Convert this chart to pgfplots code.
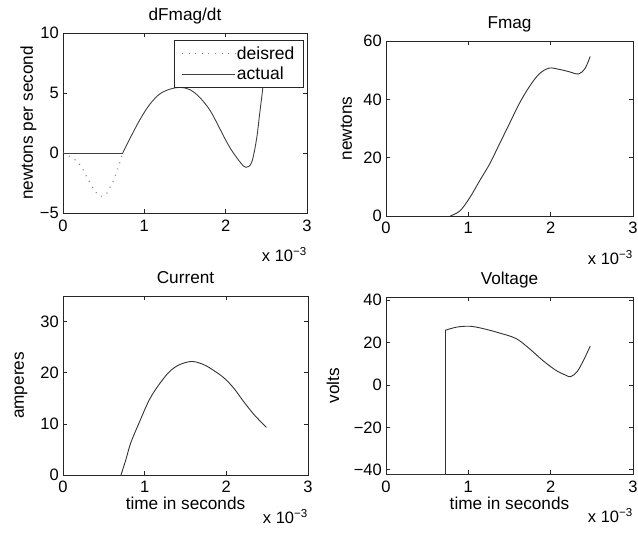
\documentclass[border=0pt]{standalone}
\usepackage{fontspec}
\setmainfont{Liberation Sans}
\usepackage{pgfplots}
\pgfplotsset{compat=1.18}
\newcommand{\ff}{\fontsize{16.5}{19}\selectfont}
\newcommand{\fl}{\fontsize{17.2}{20}\selectfont}
\pgfplotsset{
  mstyle/.style={
    scale only axis,
    xmin=0, xmax=3,
    xtick={0,1,2,3},
    tick align=inside,
    major tick length=4pt,
    axis line style={black!85, line width=0.8pt},
    tick style={black!85, line width=0.6pt},
    /pgf/number format/assume math mode=true,
    tick label style={font=\ff, inner sep=0pt},
    label style={font=\fl, inner sep=0pt},
    every axis title/.style={font=\fl, inner sep=0pt, at={(0.5,1)}, anchor=base, yshift=13pt},
    xticklabel style={anchor=base, yshift=-18pt},
    xlabel style={at={(axis description cs:0.5,0)}, anchor=base, yshift=-35pt},
    yticklabel style={anchor=east, xshift=-4pt},
    every axis plot/.append style={line width=0.9pt},
  },
  xsc/.style={
    after end axis/.code={
      \node[anchor=north east, inner sep=0pt, font=\ff] at ([yshift=-34pt]rel axis cs:1,0) {x 10\textsuperscript{−3}};
    }
  }
}
\begin{document}
\begin{tikzpicture}

% ---------------- dFmag/dt ----------------
\begin{axis}[mstyle, xsc,
  at={(63pt,-33pt)}, anchor=north west,
  width=244pt, height=180pt,
  ymin=-5, ymax=10, ytick={-5,0,5,10}, yticklabels={−5,0,5,10},
  title={dFmag/dt},
  ylabel={newtons per second},
  ylabel style={at={(axis description cs:-0.123,0.5)}, anchor=base},
  legend style={at={(axis description cs:0.984,0.961)}, anchor=north east,
    draw=black!85, fill=white, font=\fontsize{17.5}{20}\selectfont,
    inner xsep=7pt, inner ysep=5pt, row sep=3pt,
    nodes={inner sep=1.5pt}, cells={anchor=west}},
  legend image code/.code={\draw[#1] (0pt,0pt) -- (53pt,0pt);},
]
\addplot[black!45, line width=1.1pt, dash pattern=on 1.1pt off 5.5pt] coordinates {
(0,0) (0.06,-0.2) (0.12,-0.45) (0.176,-0.69) (0.24,-1.28) (0.28,-1.83) (0.33,-2.44)
(0.37,-2.94) (0.43,-3.5) (0.48,-3.62) (0.54,-3.35) (0.62,-2.31) (0.68,-1.2)
(0.734,0)
};
\addlegendentry{deisred}
\addplot[black!75, smooth, tension=0.55, forget plot] coordinates {
(0.734,0) (0.82,1.17) (0.95,2.83) (1.07,4.08) (1.19,4.92) (1.32,5.33)
(1.44,5.47) (1.56,5.28) (1.68,4.64) (1.81,3.53) (1.93,2.0) (2.05,0.47)
(2.18,-0.78) (2.25,-1.19) (2.32,-0.78) (2.38,1.17) (2.42,3.39) (2.455,5.33) (2.50,8.5)
};
\addplot[black!75] coordinates {(0,0) (0.734,0)};
\addlegendentry{actual}
\node[anchor=base west, inner sep=0pt, font=\ff] at ([xshift=2pt,yshift=6pt]rel axis cs:0,1) {x 10\textsuperscript{4}};
\end{axis}

% ---------------- Fmag ----------------
\begin{axis}[mstyle, xsc,
  at={(386pt,-41pt)}, anchor=north west,
  width=247pt, height=175pt,
  ymin=0, ymax=60, ytick={0,20,40,60},
  title={Fmag},
  ylabel={newtons},
  ylabel style={at={(axis description cs:-0.138,0.5)}, anchor=base},
]
\addplot[black!80] coordinates {(0,0) (0.78,0)};
\addplot[black!80, smooth, tension=0.55] coordinates {
(0.78,0) (0.90,1.8) (1.02,6.4) (1.14,12.2) (1.26,17.9) (1.38,24.8)
(1.50,31.7) (1.62,38.6) (1.74,44.3) (1.86,48.7) (1.98,50.7) (2.10,50.3)
(2.22,49.5) (2.34,48.7) (2.42,50.7) (2.48,54.7)
};
\end{axis}

% ---------------- Current ----------------
\begin{axis}[mstyle, xsc,
  at={(63pt,-296pt)}, anchor=north west,
  width=245pt, height=179pt,
  ymin=0, ymax=35, ytick={0,10,20,30},
  title={Current},
  xlabel={time in seconds},
  ylabel={amperes},
  ylabel style={at={(axis description cs:-0.16,0.5)}, anchor=base},
]
\addplot[black!80] coordinates {(0,0) (0.71,0)};
\addplot[black!80, smooth, tension=0.55] coordinates {
(0.71,0) (0.77,3.0) (0.83,6.3) (0.94,10.5) (1.06,14.8) (1.19,18.0)
(1.31,20.3) (1.43,21.6) (1.58,22.2) (1.72,21.6) (1.84,20.5) (1.97,19.0)
(2.09,17.0) (2.21,14.4) (2.34,11.8) (2.49,9.3)
};
\end{axis}

% ---------------- Voltage ----------------
\begin{axis}[mstyle, xsc,
  at={(386pt,-297pt)}, anchor=north west,
  width=247pt, height=177pt,
  ymin=-42, ymax=41.5, ytick={-40,-20,0,20,40}, yticklabels={−40,−20,0,20,40},
  title={Voltage},
  xlabel={time in seconds},
  ylabel={volts},
  ylabel style={at={(axis description cs:-0.19,0.5)}, anchor=base},
]
\addplot[black!80] coordinates {
(0,-42) (0.72,-42) (0.72,25.8)
};
\addplot[black!80, smooth, tension=0.55] coordinates {
(0.72,25.8) (0.86,27.3) (1.02,27.7) (1.18,26.6) (1.38,24.5) (1.58,21.9)
(1.74,17.2) (1.90,11.7) (2.06,7.0) (2.18,4.7) (2.24,3.9) (2.32,6.2)
(2.40,11.7) (2.48,18.3)
};
\end{axis}

\pgfresetboundingbox
\path[use as bounding box] (0pt,0pt) rectangle (638pt,-533pt);
\end{tikzpicture}
\end{document}
